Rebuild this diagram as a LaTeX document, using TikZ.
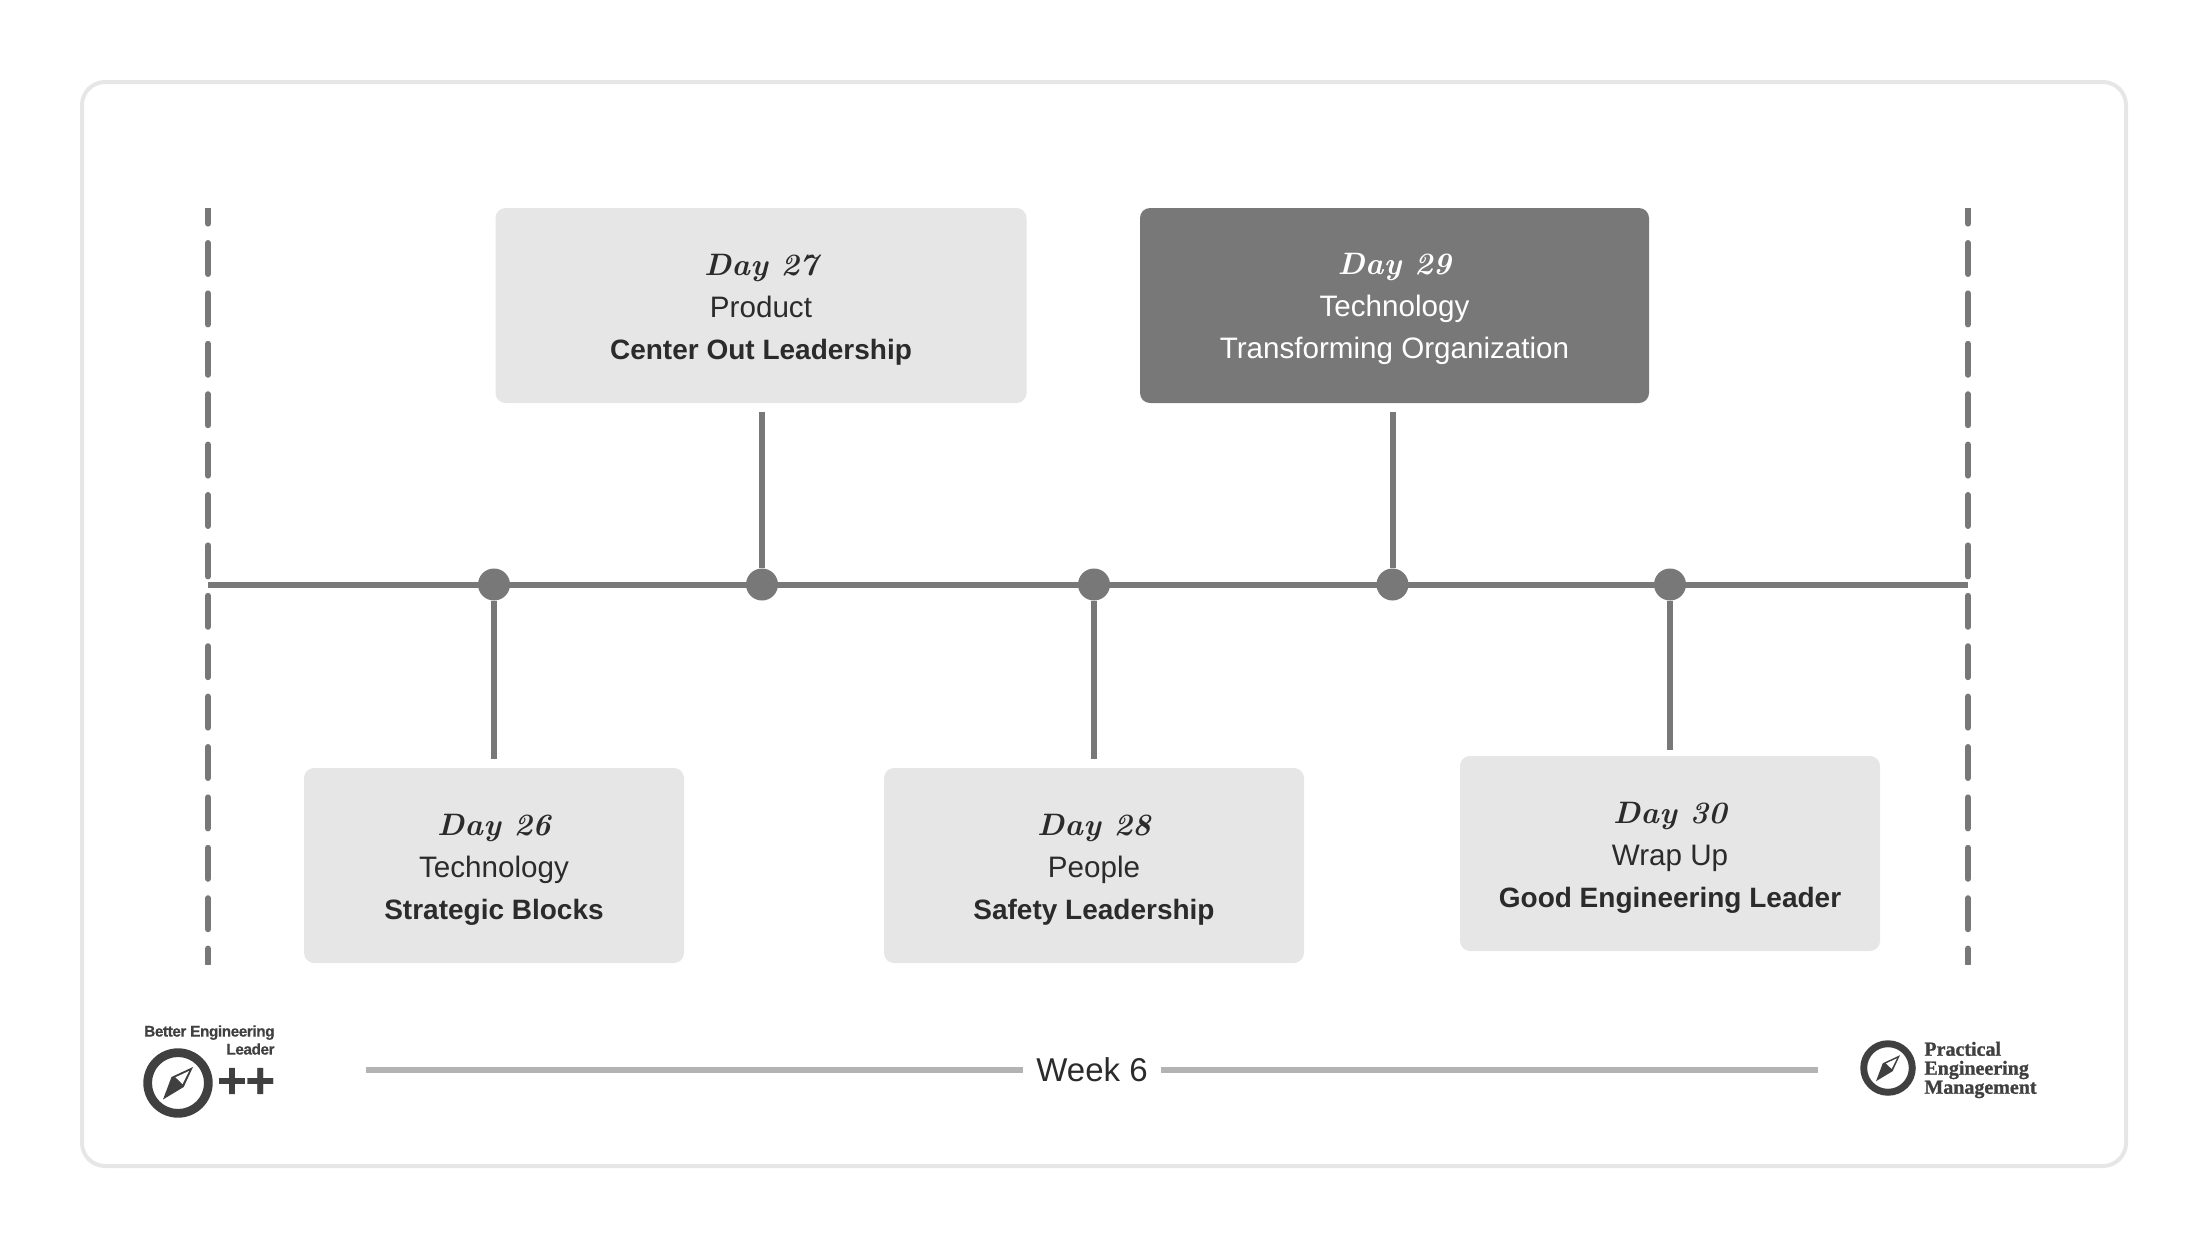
\documentclass[tikz,border=0pt]{standalone}
\usepackage{fontspec}
\setmainfont{Liberation Sans}
\newfontfamily\dayfont[LetterSpace=1]{Latin Modern Roman}
\newfontfamily\pemfont[BoldFeatures={FakeBold=1.2}]{Liberation Serif}
\newfontfamily\belfont[LetterSpace=-3,BoldFeatures={FakeBold=0.5}]{Liberation Sans}
\usetikzlibrary{positioning,calc}
\definecolor{BoxGray}{HTML}{E6E6E6}
\definecolor{LineGray}{HTML}{787878}
\definecolor{RuleGray}{HTML}{B3B3B3}
\definecolor{InkGray}{HTML}{2B2B2B}
\definecolor{LogoGray}{HTML}{404040}
\tikzset{
    block/.style = {fill=BoxGray, text=InkGray, rectangle, rounded corners=5pt,
        minimum height=97.5pt, align=center,
        font=\fontsize{14.8}{21}\selectfont},
    darkblock/.style = {block, fill=LineGray, text=white},
    dot/.style = {circle, fill=LineGray, inner sep=0pt, minimum size=16pt},
    stem/.style = {draw=LineGray, line width=3pt},
    edgeline/.style = {draw=LineGray, line width=3pt, line cap=round, dash pattern=on 15.5pt off 9.7pt, dash phase=7.7pt},
    weekrule/.style = {draw=RuleGray, line width=3pt},
    compass/.pic = {
        \fill[LogoGray,even odd rule] (0,0) circle (34.7) (0,0) circle (26);
        \fill[LogoGray] (15,-16) -- (-6.5,-6) -- (-15,16.5) -- (5.7,4) -- cycle;
        \fill[white] (11,-12) -- (-2.5,-5.7) -- (4.5,1) -- cycle;
    }
}
\newcommand{\daytag}[1]{\rule{0pt}{14.5pt}{\dayfont\fontsize{15.5}{21}\selectfont\itshape\bfseries #1}}
\newcommand{\topic}[1]{{\fontsize{14}{21}\selectfont\bfseries #1}}
\begin{document}
\begin{tikzpicture}[x=0.5pt,y=-0.5pt]
        \useasboundingbox (0,0) rectangle (2208,1248);
        \draw[BoxGray,line width=2pt,rounded corners=11.5pt] (82,82) rectangle (2126,1166);
        % edges of the week
        \coordinate (edgeLtop) at (208,208);
        \coordinate (edgeLbot) at (208,964);
        \coordinate (edgeRtop) at (1968,208);
        \coordinate (edgeRbot) at (1968,964);
        \begin{scope}
            \clip (190,208) rectangle (1986,964);
            \draw[edgeline] (edgeLtop) -- (edgeLbot);
            \draw[edgeline] (edgeRtop) -- (edgeRbot);
        \end{scope}
        \coordinate (lineL) at (208,584.5);
        \coordinate (lineR) at (1968,584.5);
        \draw[stem] (lineL) -- (lineR);
        \node[dot] (d26) at (494,584.5) {};
        \node[dot] (d27) at (762,584.5) {};
        \node[dot] (d28) at (1094,584.5) {};
        \node[dot] (d29) at (1392.5,584.5) {};
        \node[dot] (d30) at (1670,584.5) {};
        \node[block,minimum width=265.5pt] (b27) at (761,305.5) {\daytag{Day 27}\\Product\\\topic{Center Out Leadership}};
        \node[darkblock,minimum width=254.5pt] (b29) at (1394.5,305.5) {\daytag{Day 29}\\Technology\\Transforming Organization};
        \node[block,minimum width=190pt] (b26) at (494,865.5) {\daytag{Day 26}\\Technology\\\topic{Strategic Blocks}};
        \node[block,minimum width=210pt] (b28) at (1094,865.5) {\daytag{Day 28}\\People\\\topic{Safety Leadership}};
        \node[block,minimum width=210pt] (b30) at (1670,853.5) {\daytag{Day 30}\\Wrap Up\\\topic{Good Engineering Leader}};
        \draw[stem,shorten >=4.2pt] (d27) -- (d27 |- b27.south);
        \draw[stem,shorten >=4.2pt] (d29) -- (d29 |- b29.south);
        \draw[stem,shorten >=4.2pt] (d26) -- (d26 |- b26.north);
        \draw[stem,shorten >=4.2pt] (d28) -- (d28 |- b28.north);
        \draw[stem,shorten >=2.7pt] (d30) -- (d30 |- b30.north);
        % footer
        \node[text=InkGray,font=\fontsize{16.5}{20}\selectfont,inner xsep=6.7pt] (week) at (1092,1070) {Week 6};
        \coordinate (ruleL) at (366,1069.5);
        \coordinate (ruleR) at (1818,1069.5);
        \draw[weekrule] (ruleL) -- (week.west |- ruleL);
        \draw[weekrule] (week.east |- ruleR) -- (ruleR);
        \pic at (178,1083) {compass};
        \node[text=LogoGray,align=right,anchor=north east,inner sep=0pt,
            font=\belfont\fontsize{7.7}{9}\selectfont\bfseries] (belabel) at (275,1025) {Better Engineering\\Leader};
        \node[text=LogoGray,anchor=east,inner sep=0pt,font=\belfont\fontsize{25.5}{25}\selectfont\bfseries] (beplus) at (275.5,1083) {++};
        \pic[scale=.8] at (1888,1068) {compass};
        \node[text=LogoGray,align=left,anchor=west,inner sep=0pt,
            font=\pemfont\fontsize{10}{9.5}\selectfont\bfseries] (pemlabel) at (1924,1070) {Practical\\Engineering\\Management};
\end{tikzpicture}
\end{document}
